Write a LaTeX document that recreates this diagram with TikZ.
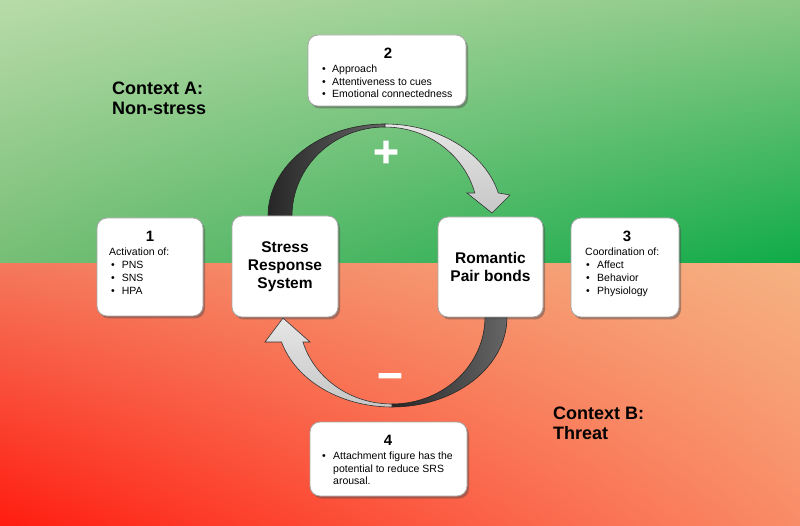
\documentclass[tikz,border=0pt]{standalone}
\usepackage{fontspec}
\setmainfont{Liberation Sans}
\newfontfamily\symfont[FakeBold=4]{DejaVu Sans}
\usetikzlibrary{shadows,shadings}
\definecolor{gUL}{RGB}{184,219,168}
\definecolor{gUR}{RGB}{140,201,135}
\definecolor{gLL}{RGB}{118,190,118}
\definecolor{gLR}{RGB}{14,171,72}
\definecolor{rUL}{RGB}{244,120,92}
\definecolor{rUR}{RGB}{246,178,130}
\definecolor{rLL}{RGB}{255,28,16}
\definecolor{rLR}{RGB}{249,140,104}
\tikzset{
  panel/.style={rounded corners=10pt, fill=white, draw=black!35, line width=0.8pt,
    drop shadow={shadow xshift=2pt, shadow yshift=-2.5pt, opacity=0.45, fill=black!70}},
  boxtext/.style={font=\fontsize{10.5}{13}\selectfont, align=left, inner sep=0pt, anchor=north west},
  numtext/.style={font=\bfseries\fontsize{15}{15}\selectfont, inner sep=0pt},
  maintext/.style={font=\bfseries\fontsize{15.5}{18}\selectfont, align=center, inner sep=0pt},
  ctxtext/.style={font=\bfseries\fontsize{18}{19.5}\selectfont, align=left, inner sep=0pt, anchor=west},
  darkpart/.style={left color=black!85, right color=black!60, draw=black!85, line width=0.6pt},
  lightpart/.style={top color=black!10, bottom color=black!22, draw=black!80, line width=0.6pt},
  signtext/.style={font=\symfont\bfseries\fontsize{34}{34}\selectfont, inner sep=0pt, text=white},
}
\begin{document}
\begin{tikzpicture}[x=1pt,y=1pt]
\useasboundingbox (0,0) rectangle (800,-526);
% background
\shade[upper left=gUL, upper right=gUR, lower left=gLL, lower right=gLR] (0,0) rectangle (800,-264);
\shade[upper left=rUL, upper right=rUR, lower left=rLL, lower right=rLR] (0,-264) rectangle (800,-526);

% context labels
\node[ctxtext] (ctxA) at (112,-98.5) {Context A:\\Non-stress};
\node[ctxtext] (ctxB) at (553,-423.5) {Context B:\\Threat};

% upper ribbon arrow
\path[darkpart] (268,-216) arc[start angle=180, end angle=90, x radius=117pt, y radius=92pt]
  -- (385,-127) arc[start angle=90, end angle=180, x radius=93pt, y radius=89pt] -- cycle;
\path[lightpart] (385,-124) arc[start angle=90, end angle=14.5, x radius=117pt, y radius=92pt]
  -- (510,-195) -- (492,-213) -- (467,-193) -- (474.8,-193)
  arc[start angle=15, end angle=90, x radius=93pt, y radius=89pt] -- cycle;

% lower ribbon arrow
\path[darkpart] (507,-317) arc[start angle=0, end angle=-90, x radius=115pt, y radius=90pt]
  -- (392,-404) arc[start angle=-90, end angle=0, x radius=93pt, y radius=87pt] -- cycle;
\path[lightpart] (392,-407) arc[start angle=-90, end angle=-163.9, x radius=115pt, y radius=90pt]
  -- (265,-342) -- (283,-318) -- (310,-342) -- (302.9,-342)
  arc[start angle=-163.3, end angle=-90, x radius=93pt, y radius=87pt] -- cycle;

% signs
\node[signtext] (plus) at (386,-152) {+};
\node[signtext] (minus) at (390,-380) {−};

% boxes
\node[panel, minimum width=106pt, minimum height=98pt] (b1) at (150,-267) {};
\node[panel, minimum width=106pt, minimum height=101pt, maintext] (srs) at (285,-266.5) {Stress\\Response\\System};
\node[panel, minimum width=105pt, minimum height=100pt, maintext] (rpb) at (490.5,-267) {Romantic\\Pair bonds};
\node[panel, minimum width=108pt, minimum height=99pt] (b3) at (625,-267.5) {};
\node[panel, minimum width=158pt, minimum height=71pt] (b2) at (387,-70.5) {};
\node[panel, minimum width=157pt, minimum height=74pt] (b4) at (388.5,-459) {};

% box 1
\node[numtext] (n1) at (150,-236) {1};
\node[boxtext] (t1) at (109,-246.7) {\begin{tabular}{@{\hspace{2pt}}l@{\hspace{7pt}}l@{}}
\multicolumn{2}{@{}l@{}}{Activation of:}\\
\textbullet & PNS\\
\textbullet & SNS\\
\textbullet & HPA
\end{tabular}};

% box 3
\node[numtext] (n3) at (627,-236) {3};
\node[boxtext] (t3) at (585,-246.7) {\begin{tabular}{@{\hspace{1pt}}l@{\hspace{7.3pt}}l@{}}
\multicolumn{2}{@{}l@{}}{Coordination of:}\\
\textbullet & Affect\\
\textbullet & Behavior\\
\textbullet & Physiology
\end{tabular}};

% box 2
\node[numtext] (n2) at (388,-53) {2};
\node[boxtext, font=\fontsize{10.5}{12.5}\selectfont] (t2) at (322,-64) {\begin{tabular}{@{}l@{\hspace{6.3pt}}l@{}}
\textbullet & Approach\\
\textbullet & Attentiveness to cues\\
\textbullet & Emotional connectedness
\end{tabular}};

% box 4
\node[numtext] (n4) at (388,-440) {4};
\node[boxtext, font=\fontsize{10.5}{12.5}\selectfont] (t4) at (322,-451) {\begin{tabular}{@{}l@{\hspace{7.3pt}}l@{}}
\textbullet & Attachment figure has the\\
 & potential to reduce SRS\\
 & arousal.
\end{tabular}};
\end{tikzpicture}
\end{document}
